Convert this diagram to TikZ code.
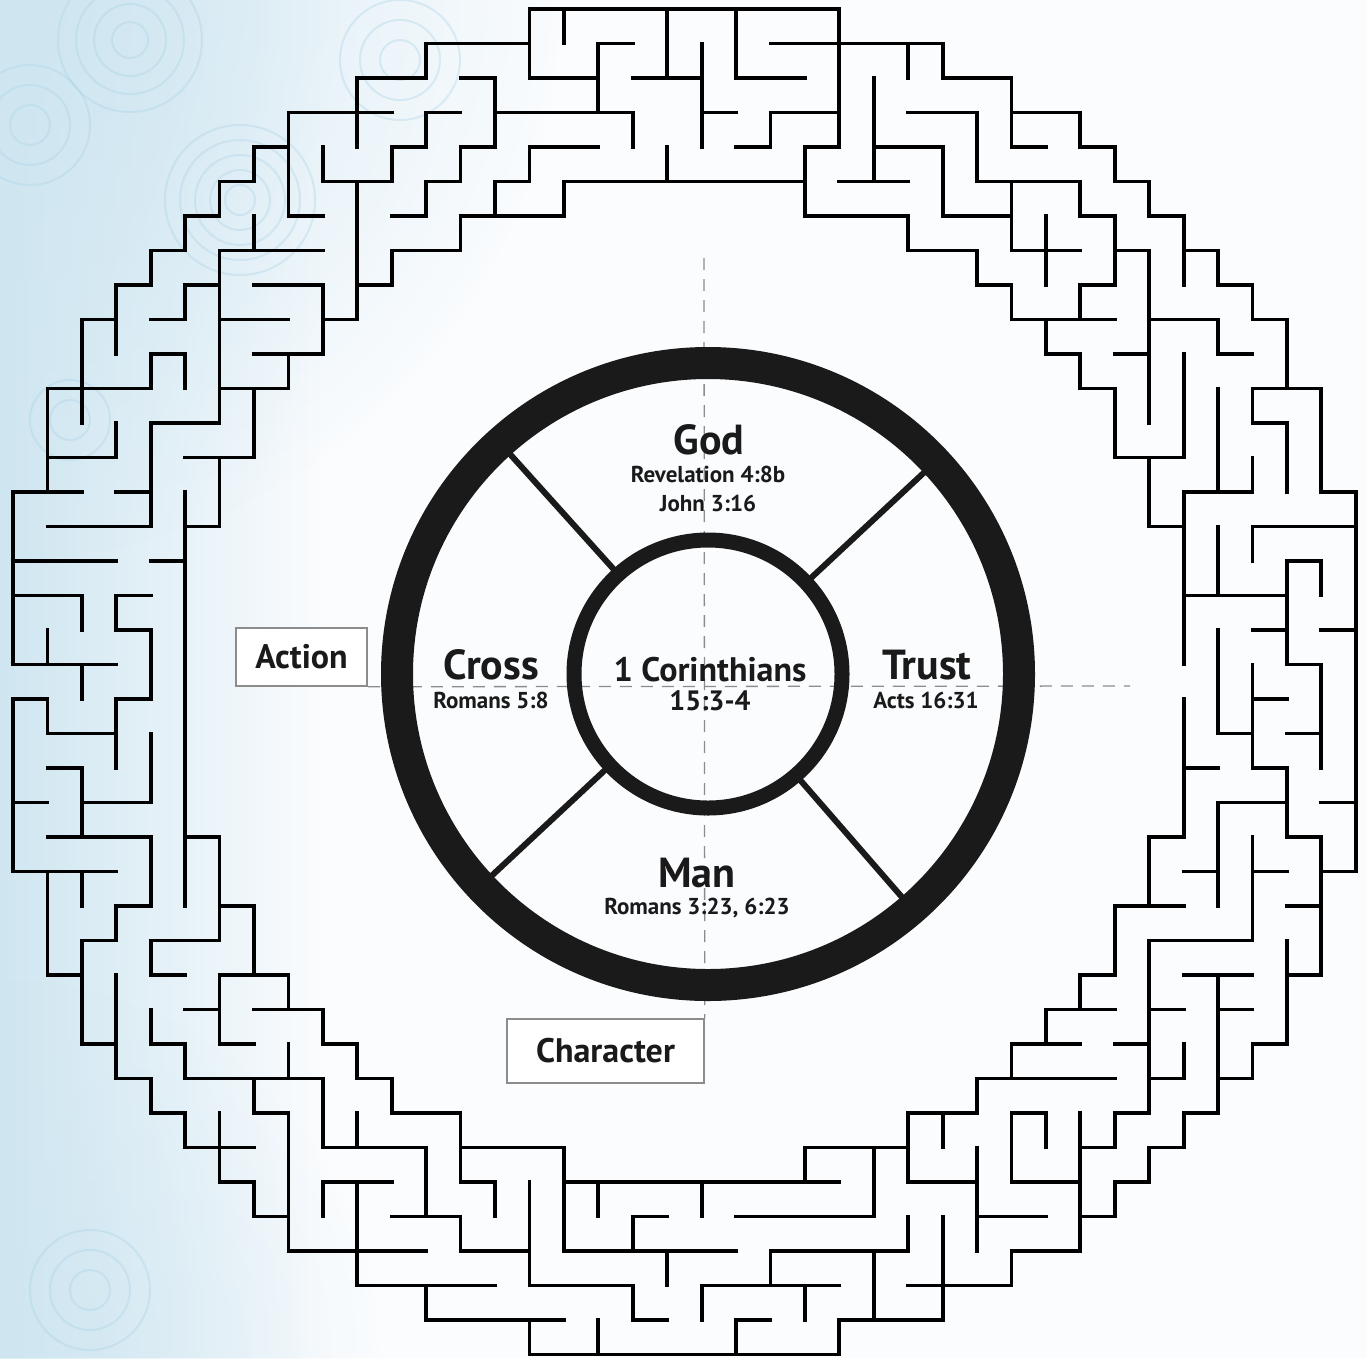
\documentclass[tikz,border=0pt]{standalone}
\usepackage{fontspec}
\usetikzlibrary{fadings}
\newfontfamily\lbl{PT Sans}
\definecolor{bgblue}{HTML}{CFE6F1}
\definecolor{bgwhite}{HTML}{FAFCFE}
\definecolor{swirl}{HTML}{A9D2E5}
\definecolor{ink}{HTML}{1A1A1A}
\definecolor{guidegray}{HTML}{8C8C8C}
\tikzfading[name=glow, inner color=transparent!0, outer color=transparent!100]
\tikzset{
  wall/.style={line width=3.8pt, line cap=rect, black},
  guide/.style={draw=guidegray, line width=1.3pt, dash pattern=on 12pt off 9pt},
  tag/.style={draw=guidegray, line width=1.5pt, fill=white, inner sep=0pt,
    font=\lbl\bfseries\fontsize{34}{34}\selectfont, text=ink},
  big/.style={font=\lbl\bfseries\fontsize{42}{42}\selectfont, text=ink, anchor=base, inner sep=0pt},
  mid/.style={font=\lbl\bfseries\fontsize{34}{34}\selectfont, text=ink, anchor=base, inner sep=0pt},
  midb/.style={font=\lbl\bfseries\fontsize{28}{28}\selectfont, text=ink, anchor=base, inner sep=0pt},
  ref/.style={font=\lbl\bfseries\fontsize{23}{23}\selectfont, text=ink, anchor=base, inner sep=0pt},
  sw/.style={draw=swirl, line width=2pt, opacity=0.35}
}
\begin{document}
\begin{tikzpicture}[x=1pt,y=-1pt]
\useasboundingbox (0,0) rectangle (1367,1358);
% background
\fill[bgwhite] (0,0) rectangle (1367,1358);
\begin{scope}
\clip (0,0) rectangle (1367,1358);
\fill[bgblue, path fading=east] (0,0) rectangle (320,1358);
\fill[bgblue, path fading=glow] (0,0) circle[radius=560pt];
\fill[bgblue, path fading=glow, opacity=0.7] (0,1358) circle[radius=380pt];
\end{scope}
\foreach \rr in {18,36,54,72} \draw[sw] (130,40) circle[radius=\rr pt];
\foreach \rr in {15,30,45,60,75} \draw[sw] (240,200) circle[radius=\rr pt];
\foreach \rr in {20,40,60} \draw[sw] (30,125) circle[radius=\rr pt];
\foreach \rr in {20,40,60} \draw[sw] (400,60) circle[radius=\rr pt];
\foreach \rr in {20,40} \draw[sw] (70,420) circle[radius=\rr pt];
\foreach \rr in {20,40,60} \draw[sw] (90,1290) circle[radius=\rr pt];

% maze
\begin{scope}[shift={(13,9)}, x=34.43pt, y=-34.5pt]
\foreach \r/\a/\b in {
0/15/24,
1/12/15, 1/17/18, 1/22/27,
2/10/12, 2/13/14, 2/15/17, 2/18/20, 2/21/23, 2/27/29,
3/8/11, 3/12/13, 3/14/18, 3/20/21, 3/22/24, 3/26/28, 3/29/31,
4/7/8, 4/11/12, 4/13/14, 4/15/17, 4/21/22, 4/23/24, 4/25/27, 4/29/30, 4/31/32,
5/6/7, 5/9/11, 5/12/13, 5/14/15, 5/16/23, 5/24/26, 5/28/31, 5/32/33,
6/5/6, 6/8/9, 6/11/12, 6/13/16, 6/23/26, 6/27/29, 6/31/32, 6/33/34,
7/4/5, 7/6/9, 7/11/13, 7/26/28, 7/29/31, 7/32/33, 7/34/35,
8/3/4, 8/5/6, 8/7/9, 8/10/11, 8/28/29, 8/31/32, 8/35/36,
9/2/3, 9/4/5, 9/6/8, 9/9/10, 9/29/32, 9/33/35, 9/36/37,
10/4/5, 10/7/9, 10/30/31, 10/32/33, 10/35/36,
11/1/4, 11/6/8, 11/31/32, 11/36/38,
12/4/6, 12/36/37,
13/1/3, 13/5/7, 13/32/34,
14/0/2, 14/3/4, 14/34/36, 14/38/39,
15/1/4, 15/5/6, 15/33/34, 15/36/39,
16/0/3, 16/4/5, 16/37/38,
17/0/2, 17/3/4, 17/34/37,
18/3/4, 18/36/37, 18/38/39,
19/0/3, 19/37/38,
20/0/1, 20/3/4, 20/36/37,
21/1/3, 21/35/36, 21/37/38,
22/1/2, 22/34/35, 22/36/37,
23/0/1, 23/2/4, 23/35/37, 23/38/39,
24/1/4, 24/5/6, 24/33/34, 24/37/38,
25/0/3, 25/34/35, 25/36/37, 25/38/39,
26/3/4, 26/6/7, 26/32/34, 26/37/38,
27/2/3, 27/4/6, 27/33/36,
28/1/2, 28/4/5, 28/6/8, 28/31/32, 28/34/36, 28/37/38,
29/5/6, 29/7/9, 29/30/32, 29/33/34, 29/35/36,
30/2/3, 30/4/5, 30/6/7, 30/9/10, 30/29/31, 30/32/33, 30/36/37,
31/3/4, 31/5/9, 31/10/11, 31/28/32, 31/33/34, 31/35/36,
32/4/5, 32/7/8, 32/11/13, 32/26/28, 32/29/30, 32/32/33, 32/34/35,
33/5/7, 33/9/12, 33/13/16, 33/23/26, 33/31/32, 33/33/34,
34/6/7, 34/9/11, 34/13/14, 34/16/24, 34/26/28, 34/29/31, 34/32/33,
35/7/8, 35/11/13, 35/18/19, 35/21/25, 35/28/30, 35/31/32,
36/8/12, 36/13/15, 36/16/21, 36/22/26, 36/29/31,
37/10/14, 37/15/18, 37/20/24, 37/26/29,
38/12/16, 38/18/19, 38/21/22, 38/24/27,
39/15/24}
  \draw[wall] (\a,\r) -- (\b,\r);
\foreach \c/\a/\b in {
0/14/19, 0/20/25,
1/11/14, 1/18/19, 1/20/21, 1/25/28,
2/9/12, 2/17/18, 2/19/20, 2/22/24, 2/25/26, 2/27/30,
3/8/10, 3/12/13, 3/17/18, 3/20/22, 3/26/27, 3/28/31,
4/7/8, 4/10/11, 4/12/15, 4/18/20, 4/21/23, 4/24/26, 4/27/28, 4/29/30, 4/31/32,
5/6/7, 5/8/9, 5/10/11, 5/14/26, 5/30/31, 5/32/33,
6/5/6, 6/7/12, 6/13/15, 6/24/27, 6/28/30, 6/32/34,
7/4/5, 7/6/7, 7/11/13, 7/26/28, 7/31/32, 7/34/35,
8/3/6, 8/10/11, 8/28/29, 8/30/31, 8/32/36,
9/4/5, 9/8/10, 9/29/30, 9/31/33, 9/34/35,
10/2/4, 10/5/9, 10/30/31, 10/32/33, 10/34/37,
11/4/5, 11/7/8, 11/31/32,
12/1/2, 12/3/4, 12/5/6, 12/33/35, 12/37/38,
13/4/5, 13/6/7, 13/32/34, 13/35/36,
14/2/4, 14/5/6, 14/34/35,
15/0/2, 15/4/5, 15/34/37, 15/38/39,
16/0/1, 16/5/6, 16/33/36,
17/1/3, 17/34/35, 17/38/39,
18/3/4, 18/35/36, 18/37/38,
19/0/2, 19/4/5, 19/36/37,
20/1/4, 20/34/35, 20/37/38,
21/0/2, 21/38/39,
22/3/4, 22/36/37,
23/4/6, 23/33/34, 23/37/38,
24/0/4, 24/38/39,
25/2/5, 25/33/35, 25/36/38,
26/1/2, 26/6/7, 26/32/34, 26/35/36,
27/1/2, 27/4/6, 27/32/33, 27/35/38,
28/3/5, 28/7/8, 28/31/32, 28/33/36,
29/2/4, 29/5/7, 29/8/9, 29/30/31, 29/32/34, 29/36/37,
30/6/8, 30/9/10, 30/29/30, 30/32/33,
31/3/4, 31/5/6, 31/8/9, 31/10/11, 31/28/29, 31/32/36,
32/4/5, 32/6/8, 32/11/13, 32/26/28, 32/32/33, 32/34/35,
33/5/6, 33/7/12, 33/13/15, 33/24/26, 33/27/32, 33/33/34,
34/6/8, 34/10/13, 34/14/19, 34/20/24, 34/30/31, 34/32/33,
35/7/8, 35/9/10, 35/11/14, 35/15/17, 35/18/21, 35/23/26, 35/28/32,
36/8/9, 36/11/12, 36/13/14, 36/15/16, 36/19/22, 36/24/27, 36/30/31,
37/9/11, 37/12/14, 37/16/19, 37/22/24, 37/27/30,
38/11/14, 38/16/17, 38/19/22, 38/24/28,
39/14/25}
  \draw[wall] (\c,\a) -- (\c,\b);
\end{scope}

% label boxes
\node[tag, minimum width=131pt, minimum height=58pt] (action) at (301.5,657) {Action};
\node[tag, minimum width=197pt, minimum height=64pt] (character) at (605.5,1051) {Character};

% guide lines
\coordinate (hend) at (1130,686);
\coordinate (vtop) at (704,258);
\draw[guide] (action.south east) -- (hend);
\draw[guide] (vtop) -- (character.north east);

% wheel
\coordinate (C) at (708,674);
\draw[line width=32pt, ink] (C) circle[radius=311pt];
\draw[line width=15pt, ink] (C) circle[radius=134pt];
\foreach \ang in {132,43,223,311}
  \draw[line width=6pt, ink] ([shift={(\ang:138pt)}]C) -- ([shift={(\ang:298pt)}]C);

% texts
\node[big] (god) at (709,454) {God};
\node[ref] (rev) at (708,482) {Revelation 4:8b};
\node[ref] (john) at (708,511) {John 3:16};
\node[big] (cross) at (491,679) {Cross};
\node[ref] (rom58) at (491,708) {Romans 5:8};
\node[mid] (cor) at (710,681) {1 Corinthians};
\node[midb] (cor2) at (710,710) {15:3-4};
\node[big] (trust) at (927,679) {Trust};
\node[ref] (acts) at (926,708) {Acts 16:31};
\node[big] (man) at (697,887) {Man};
\node[ref] (rom323) at (697,914) {Romans 3:23, 6:23};
\end{tikzpicture}
\end{document}
